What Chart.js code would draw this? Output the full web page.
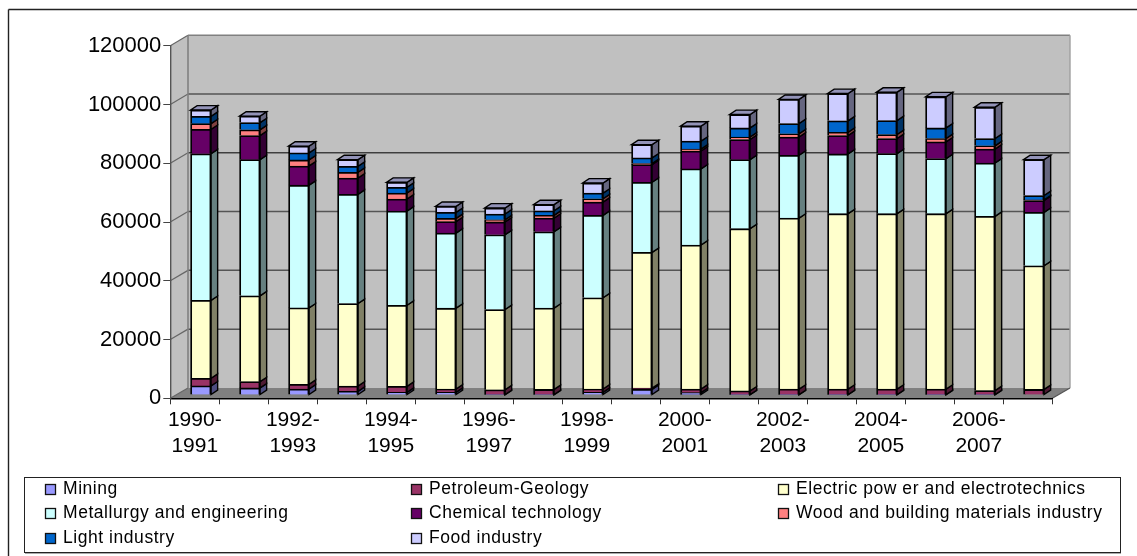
<!DOCTYPE html>
<html>
<head>
<meta charset="utf-8">
<style>
html, body { margin: 0; padding: 0; background: #fff; }
canvas { display: block; }
</style>
<script src="https://cdn.jsdelivr.net/npm/chart.js@4/dist/chart.umd.min.js"></script>
</head>
<body>
<canvas id="chartGraduates" width="1137" height="556"></canvas>
<script>
const years = [
    "1990-1991", "1991-1992", "1992-1993", "1993-1994", "1994-1995", "1995-1996",
    "1996-1997", "1997-1998", "1998-1999", "1999-2000", "2000-2001", "2001-2002",
    "2002-2003", "2003-2004", "2004-2005", "2005-2006", "2006-2007", "2007-2008"
];

const mining = [3100, 2400, 2050, 1250, 900, 900, 100, 100, 900, 1930, 800, 100, 100, 100, 100, 100, 100, 0];
const petroleum = [2600, 2150, 1600, 1800, 2050, 1150, 1700, 1800, 1150, 400, 1250, 1300, 1900, 1900, 1900, 1900, 1400, 1900];
const electric = [26500, 29200, 26000, 28100, 27600, 27500, 27300, 27660, 31050, 46200, 49000, 55200, 58200, 59700, 59700, 59700, 59300, 42100];
const metallurgy = [49900, 46350, 41750, 37150, 32050, 25550, 25450, 25990, 28050, 23870, 25900, 23500, 21400, 20350, 20450, 18750, 18150, 18150];
const chemical = [8300, 8200, 6550, 5550, 4100, 3900, 4350, 4650, 4500, 6000, 6100, 6850, 6200, 6250, 5150, 5700, 4750, 4050];
const wood = [1950, 1950, 2050, 1950, 2050, 1100, 750, 950, 1150, 350, 650, 850, 1100, 1100, 1350, 1150, 1100, 200];
const light = [2500, 2450, 2400, 2050, 1950, 2050, 1950, 1550, 1900, 1950, 2700, 3100, 3500, 3900, 4750, 3600, 2500, 1500];
const food = [2150, 2200, 2300, 2250, 1700, 2050, 2050, 2100, 3450, 4500, 5100, 4550, 8200, 9300, 9650, 10600, 10650, 12200];

const seriesNames = [
    "Mining", "Petroleum-Geology", "Electric pow er and electrotechnics",
    "Metallurgy and engineering", "Chemical technology", "Wood and building materials industry",
    "Light industry", "Food industry"
];
const seriesValues = [mining, petroleum, electric, metallurgy, chemical, wood, light, food];
const seriesColors = ["#9999ff", "#993366", "#ffffcc", "#ccffff", "#660066", "#ff8080", "#0066cc", "#ccccff"];

const fontFamily = "'Liberation Sans', Arial, sans-serif";

// depth of the box behind the axes, and of each column
const wallDx = 17.7, wallDy = 10.4;
const barDx = 6.6, barDy = 4.4;
const planeDx = 6, planeDy = 3.3;

function shade(hex, k) {
    const n = parseInt(hex.slice(1), 16);
    const r = Math.round((n >> 16 & 255) * k);
    const g = Math.round((n >> 8 & 255) * k);
    const b = Math.round((n & 255) * k);
    return `rgb(${r},${g},${b})`;
}

function poly(ctx, pts, fill, stroke, lw) {
    ctx.beginPath();
    pts.forEach((p, i) => (i ? ctx.lineTo(p[0], p[1]) : ctx.moveTo(p[0], p[1])));
    ctx.closePath();
    ctx.fillStyle = fill;
    ctx.fill();
    if (stroke) {
        ctx.strokeStyle = stroke;
        ctx.lineWidth = lw;
        ctx.stroke();
    }
}

function line(ctx, x1, y1, x2, y2, color, lw) {
    ctx.beginPath();
    ctx.moveTo(x1, y1);
    ctx.lineTo(x2, y2);
    ctx.strokeStyle = color;
    ctx.lineWidth = lw;
    ctx.stroke();
}

// frame, walls, floor and gridlines
const boxPlugin = {
    id: "box",
    beforeDraw(chart) {
        const { ctx, chartArea: a, scales } = chart;
        const l = a.left, r = a.right, t = a.top, b = a.bottom;
        ctx.save();
        line(ctx, 8.5, 9.5, 1137, 9.5, "#222", 1.4);
        line(ctx, 8.5, 9.5, 8.5, 556, "#222", 1.4);

        poly(ctx, [[l, t], [l + wallDx, t - wallDy], [l + wallDx, b - wallDy], [l, b]], "#c0c0c0");
        poly(ctx, [[l + wallDx, t - wallDy], [r + wallDx, t - wallDy], [r + wallDx, b - wallDy], [l + wallDx, b - wallDy]], "#c0c0c0");
        poly(ctx, [[l, b], [l + wallDx, b - wallDy], [r + wallDx, b - wallDy], [r, b]], "#808080");

        scales.y.ticks.forEach(tick => {
            const y = scales.y.getPixelForValue(tick.value);
            const dark = tick.value === 80000;
            if (tick.value > 0 && tick.value < 120000) {
                line(ctx, l + wallDx, y - wallDy, r + wallDx, y - wallDy, dark ? "#000" : "#555", dark ? 1 : 1.5);
            }
            line(ctx, l, y, l + wallDx, y - wallDy, "#666", 1.2);
        });

        line(ctx, l + wallDx, t - wallDy, r + wallDx, t - wallDy, "#808080", 1.6);
        line(ctx, l + wallDx, t - wallDy, l + wallDx, b - wallDy, "#808080", 1.6);
        line(ctx, r + wallDx, t - wallDy, r + wallDx, b - wallDy, "#a0a0a0", 1.4);
        line(ctx, r, b, r + wallDx, b - wallDy, "#555", 1.2);
        ctx.restore();
    },
    // columns sit a little behind the front edge of the floor
    beforeDatasetsDraw(chart) {
        const ctx = chart.ctx;
        ctx.save();
        ctx.translate(planeDx, -planeDy);
        chart.data.datasets.forEach((ds, di) => {
            const side = shade(ds.backgroundColor, 0.5);
            const cap = shade(ds.backgroundColor, 0.72);
            chart.getDatasetMeta(di).data.forEach(bar => {
                const x2 = bar.x + bar.width / 2;
                const x1 = bar.x - bar.width / 2;
                if (Math.abs(bar.base - bar.y) < 0.1) return;
                poly(ctx, [[x2, bar.y], [x2 + barDx, bar.y - barDy], [x2 + barDx, bar.base - barDy], [x2, bar.base]], side, "#000", 1.4);
                if (di === chart.data.datasets.length - 1) {
                    poly(ctx, [[x1, bar.y], [x1 + barDx, bar.y - barDy], [x2 + barDx, bar.y - barDy], [x2, bar.y]], cap, "#000", 1.4);
                }
            });
        });
    },
    afterDatasetsDraw(chart) {
        chart.ctx.restore();
    },
    // three-column key in its own box under the chart
    afterDraw(chart) {
        const ctx = chart.ctx;
        const colX = [45, 411, 778];
        const rowY = [489, 513, 538];
        ctx.save();
        line(ctx, 25, 553.4, 1121, 553.4, "#aaa", 1.4);
        ctx.strokeStyle = "#222";
        ctx.lineWidth = 1;
        ctx.strokeRect(24.5, 477.5, 1096, 75);
        ctx.font = "17.5px " + fontFamily;
        ctx.letterSpacing = "0.55px";
        ctx.textBaseline = "middle";
        seriesNames.forEach((name, i) => {
            const x = colX[i % 3];
            const y = rowY[Math.floor(i / 3)];
            ctx.fillStyle = seriesColors[i];
            ctx.fillRect(x + 0.5, y - 4.5, 10, 10);
            ctx.strokeStyle = "#111";
            ctx.lineWidth = 1.3;
            ctx.strokeRect(x + 0.5, y - 4.5, 10, 10);
            ctx.fillStyle = "#000";
            ctx.fillText(name, x + 18, y);
        });
        ctx.restore();
    }
};

const datasets = seriesNames.map((name, i) => ({
    label: name,
    data: seriesValues[i],
    backgroundColor: seriesColors[i],
    borderColor: "#000",
    borderWidth: 1.8,
    barThickness: 20.5,
    clip: false
}));

new Chart(document.getElementById("chartGraduates"), {
    type: "bar",
    data: { labels: years, datasets: datasets },
    plugins: [boxPlugin],
    options: {
        responsive: false,
        animation: false,
        layout: { padding: { left: 0, right: 84.7, top: 45.7, bottom: 0 } },
        plugins: { legend: { display: false }, tooltip: { enabled: false } },
        scales: {
            x: {
                stacked: true,
                afterFit(scale) { scale.height = 157.7; },
                grid: { drawOnChartArea: false, tickLength: 6, color: "#333" },
                border: { color: "#000", width: 1.4 },
                ticks: {
                    autoSkip: false,
                    maxRotation: 0,
                    minRotation: 0,
                    padding: 3,
                    color: "#000",
                    font: { family: fontFamily, size: 21, lineHeight: 1.24 },
                    // every other year, broken after the hyphen
                    callback(value, index) {
                        if (index % 2) return "";
                        const parts = this.getLabelForValue(value).split("-");
                        return [parts[0] + "-", parts[1]];
                    }
                }
            },
            y: {
                stacked: true,
                min: 0,
                max: 120000,
                afterFit(scale) { scale.width = 170.3; },
                grid: { drawOnChartArea: false, tickLength: 7, color: "#444" },
                border: { color: "#555", width: 1.4 },
                ticks: {
                    stepSize: 20000,
                    padding: 2,
                    color: "#000",
                    font: { family: fontFamily, size: 22 },
                    callback(value) { return String(value); }
                }
            }
        }
    }
});
</script>
</body>
</html>
